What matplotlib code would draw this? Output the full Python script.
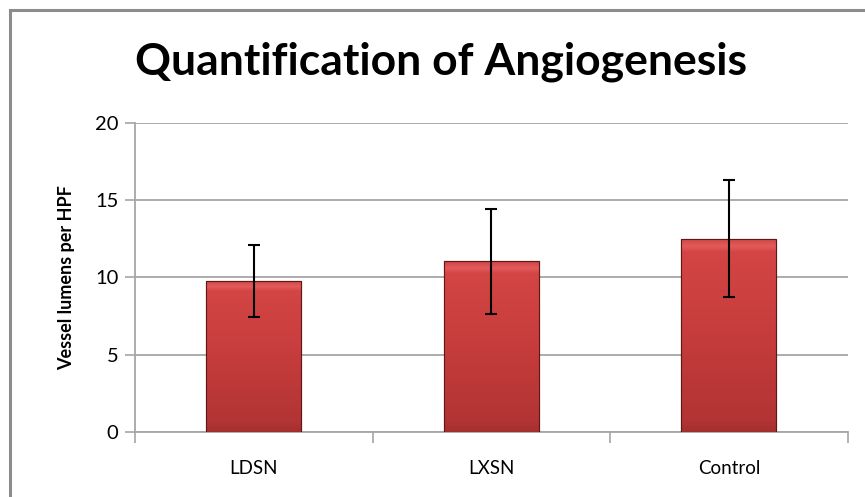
import numpy as np
import matplotlib.pyplot as plt
from matplotlib.colors import LinearSegmentedColormap
from matplotlib.patches import Rectangle

groups = ["LDSN", "LXSN", "Control"]
means = [9.8, 11.05, 12.52]
errors = [2.33, 3.41, 3.76]
y_ticks = [0, 5, 10, 15, 20]

plt.rcParams["font.family"] = ["Lato", "DejaVu Sans"]

fig = plt.figure(figsize=(8.65, 4.97), dpi=100)
ax = fig.add_axes([0.156, 0.131, 0.824, 0.6215])

x = np.arange(len(groups))
bars = ax.bar(x, means, width=0.4, color="#C23B3B", edgecolor="#5E1818",
              linewidth=0.8, zorder=3)

# excel-like vertical shading inside each bar
shade = LinearSegmentedColormap.from_list(
    "shade", [(0.0, "#A52F2F"), (0.06, "#B23434"), (0.5, "#C63C3C"),
              (0.93, "#D44545"), (0.96, "#E25B5B"), (1.0, "#D04444")])
grad = np.linspace(0, 1, 256).reshape(-1, 1)
for bar in bars:
    x0, w, h = bar.get_x(), bar.get_width(), bar.get_height()
    im = ax.imshow(grad, cmap=shade, origin="lower", aspect="auto",
                   extent=[x0, x0 + w, 0, h], zorder=3.5)
    im.set_clip_path(bar)
    ax.add_patch(Rectangle((x0, 0), w, h, fill=False, edgecolor="#5E1818",
                           linewidth=0.8, zorder=3.6))

ax.errorbar(x, means, yerr=errors, fmt="none", ecolor="black", elinewidth=1.5,
            capsize=4.5, capthick=1.5, zorder=4)

ax.set_xlim(-0.5, len(groups) - 0.5)
ax.set_ylim(0, 20)
ax.set_yticks(y_ticks)
ax.yaxis.grid(True, color="#A6A6A6", linewidth=1.3, zorder=0)
ax.set_axisbelow(True)

ax.set_xticks(x)
ax.set_xticklabels(groups, fontsize=13.5)
ax.set_xticks(np.arange(len(groups) + 1) - 0.5, minor=True)
ax.tick_params(axis="x", which="major", length=0, pad=20)
ax.tick_params(axis="x", which="minor", length=8, color="#A6A6A6", width=1.2)
ax.tick_params(axis="y", length=7, color="#A6A6A6", width=1.2, labelsize=14.5, pad=5)

for side in ["top", "right"]:
    ax.spines[side].set_visible(False)
for side in ["left", "bottom"]:
    ax.spines[side].set_color("#A6A6A6")
    ax.spines[side].set_linewidth(1.3)

ax.set_ylabel("Vessel lumens per HPF", fontsize=13, fontweight="bold", labelpad=14)
fig.text(0.51, 0.875, "Quantification of Angiogenesis", ha="center", va="center",
         fontsize=32, fontweight="bold")

# chart frame (top and left edges visible)
fig.add_artist(Rectangle((10 / 865, -0.1), 1.2, 1.1 - 10 / 497, fill=False,
                         edgecolor="#8C8C8C", linewidth=2.2,
                         transform=fig.transFigure, clip_on=False))

fig.savefig("out.png", dpi=100)
